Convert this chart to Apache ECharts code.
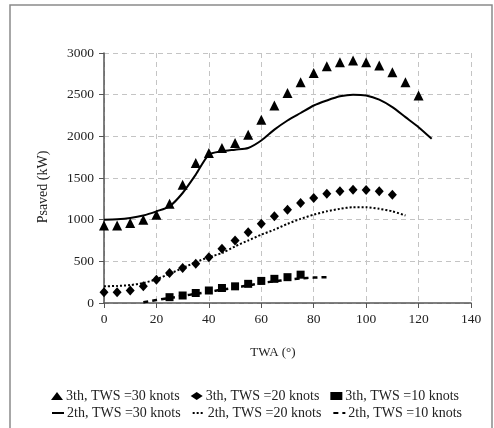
<!DOCTYPE html>
<html>
<head>
<meta charset="utf-8">
<script src="https://cdn.jsdelivr.net/npm/echarts@6/dist/echarts.min.js"></script>
<style>
  html, body { margin: 0; padding: 0; background: #fff; }
  #chart { width: 494px; height: 428px; }
</style>
</head>
<body>
<div id="chart"></div>
<script>
// Psaved vs TWA, 3th (markers) and 2th (lines) at three wind speeds.

const twa3_30 = [0, 5, 10, 15, 20, 25, 30, 35, 40, 45, 50, 55, 60, 65, 70, 75, 80, 85, 90, 95, 100, 105, 110, 115, 120];
const p3_30 = [930, 930, 960, 1000, 1060, 1190, 1420, 1680, 1800, 1860, 1920, 2020, 2200, 2370, 2520, 2650, 2760, 2840, 2890, 2910, 2890, 2850, 2770, 2650, 2490];

const twa3_20 = [0, 5, 10, 15, 20, 25, 30, 35, 40, 45, 50, 55, 60, 65, 70, 75, 80, 85, 90, 95, 100, 105, 110];
const p3_20 = [130, 130, 150, 200, 280, 360, 420, 470, 550, 650, 750, 850, 950, 1040, 1120, 1200, 1260, 1310, 1340, 1360, 1355, 1340, 1300];

const twa3_10 = [25, 30, 35, 40, 45, 50, 55, 60, 65, 70, 75];
const p3_10 = [70, 90, 120, 150, 180, 200, 230, 265, 290, 310, 340];

const twa2_30 = [0, 5, 10, 15, 20, 25, 30, 35, 40, 45, 50, 55, 60, 65, 70, 75, 80, 85, 90, 95, 100, 105, 110, 115, 120, 125];
const p2_30 = [1000, 1005, 1020, 1050, 1100, 1160, 1320, 1540, 1780, 1820, 1840, 1860, 1950, 2080, 2190, 2280, 2370, 2430, 2480, 2500, 2490, 2440, 2350, 2230, 2110, 1970];

const twa2_20 = [0, 5, 10, 15, 20, 25, 30, 35, 40, 45, 50, 55, 60, 65, 70, 75, 80, 85, 90, 95, 100, 105, 110, 115];
const p2_20 = [200, 205, 215, 240, 285, 350, 420, 490, 550, 600, 680, 750, 820, 880, 950, 1010, 1060, 1100, 1130, 1150, 1150, 1130, 1100, 1050];

const twa2_10 = [15, 20, 25, 30, 35, 40, 45, 50, 55, 60, 65, 70, 75, 80, 85];
const p2_10 = [10, 35, 60, 85, 110, 135, 160, 185, 210, 240, 260, 280, 295, 305, 310];

const names = [
  "3th, TWS =30 knots", "3th, TWS =20 knots", "3th, TWS =10 knots",
  "2th, TWS =30 knots", "2th, TWS =20 knots", "2th, TWS =10 knots",
];

const zip = (xs, ys) => xs.map((x, i) => [x, ys[i]]);

const FONT = "Liberation Serif";
const INK = "#000";
const TXT = "#222";

const chart = echarts.init(document.getElementById("chart"), null, { renderer: "canvas" });

const marker = (name, xs, ys, symbol, size) => ({
  name, type: "scatter", data: zip(xs, ys),
  symbol, symbolSize: size,
  itemStyle: { color: INK, opacity: 1 },
  z: 3,
});
const curve = (name, xs, ys, width, type) => ({
  name, type: "line", data: zip(xs, ys),
  symbol: "none", smooth: 0.25,
  lineStyle: { color: INK, width, type },
  itemStyle: { color: INK },
  z: 2,
});

const legendBase = {
  left: 46, itemGap: 11, itemWidth: 12, itemHeight: 8,
  textStyle: { fontFamily: FONT, fontSize: 14, color: TXT, padding: [0, 0, 0, -2] },
};

chart.setOption({
  animation: false,
  backgroundColor: "#fff",
  graphic: [{
    type: "rect",
    shape: { x: 10, y: 5, width: 482, height: 440 },
    style: { fill: "none", stroke: "#8a8a8a", lineWidth: 1.5 },
  }],
  grid: { left: 104, right: 23, top: 53, bottom: 125 },
  legend: [
    Object.assign({ top: 384, data: names.slice(0, 3) }, legendBase),
    // line items: hide the default circle drawn on the legend line
    Object.assign({ top: 401, data: names.slice(3), itemStyle: { opacity: 0 } }, legendBase),
  ],
  xAxis: {
    type: "value", min: 0, max: 140, interval: 20,
    name: "TWA (°)", nameLocation: "middle", nameGap: 43,
    nameTextStyle: { fontFamily: FONT, fontSize: 13, color: TXT, padding: [0, 29, 0, 0] },
    axisLine: { lineStyle: { color: "#555", width: 1.5 } },
    axisTick: { show: true, length: 5, lineStyle: { color: "#555" } },
    axisLabel: { fontFamily: FONT, fontSize: 13.5, color: TXT, margin: 9 },
    splitLine: { show: true, lineStyle: { color: "#c4c4c4", type: [5, 4] } },
  },
  yAxis: {
    type: "value", min: 0, max: 3000, interval: 500,
    name: "Psaved (kW)", nameLocation: "middle", nameGap: 54,
    nameTextStyle: { fontFamily: FONT, fontSize: 14, color: TXT, padding: [0, 18, 0, 0] },
    axisLine: { show: true, lineStyle: { color: "#555", width: 1.5 } },
    axisTick: { show: true, length: 5, lineStyle: { color: "#555" } },
    axisLabel: { fontFamily: FONT, fontSize: 13.5, color: TXT, margin: 10, formatter: v => String(v) },
    splitLine: { show: true, lineStyle: { color: "#c4c4c4", type: [5, 4] } },
  },
  series: [
    marker(names[0], twa3_30, p3_30, "triangle", 10),
    marker(names[1], twa3_20, p3_20, "diamond", [9, 10]),
    marker(names[2], twa3_10, p3_10, "rect", 8),
    curve(names[3], twa2_30, p2_30, 2, "solid"),
    curve(names[4], twa2_20, p2_20, 2, [2, 2]),
    curve(names[5], twa2_10, p2_10, 2.5, [5, 4]),
  ],
});
</script>
</body>
</html>
